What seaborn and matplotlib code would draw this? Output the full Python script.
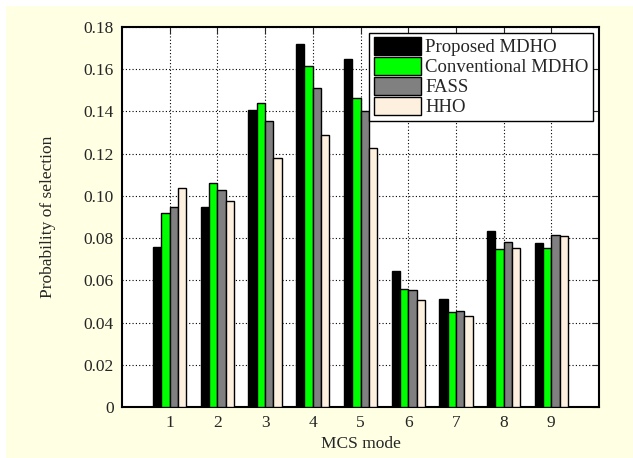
import matplotlib
matplotlib.use("Agg")
import matplotlib.pyplot as plt
import seaborn as sns
import pandas as pd
from matplotlib.patches import Rectangle

modes = [1, 2, 3, 4, 5, 6, 7, 8, 9]
series_names = ["Proposed MDHO", "Conventional MDHO", "FASS", "HHO"]
proposed = [0.0756, 0.0946, 0.1405, 0.1718, 0.1650, 0.0646, 0.0513, 0.0834, 0.0775]
conventional = [0.0917, 0.1063, 0.1441, 0.1615, 0.1465, 0.0560, 0.0448, 0.0748, 0.0753]
fass = [0.0949, 0.1028, 0.1353, 0.1511, 0.1400, 0.0556, 0.0455, 0.0780, 0.0816]
hho = [0.1039, 0.0974, 0.1180, 0.1290, 0.1225, 0.0508, 0.0430, 0.0755, 0.0811]
yticks = [0, 0.02, 0.04, 0.06, 0.08, 0.10, 0.12, 0.14, 0.16, 0.18]
ytick_labels = ["0", "0.02", "0.04", "0.06", "0.08", "0.10", "0.12", "0.14", "0.16", "0.18"]

rows = []
for name, vals in zip(series_names, [proposed, conventional, fass, hho]):
    for m, v in zip(modes, vals):
        rows.append({"mode": m, "series": name, "value": v})
df = pd.DataFrame(rows)

sns.set_style("white")
plt.rcParams["font.family"] = ["Liberation Serif", "DejaVu Serif"]
plt.rcParams["font.size"] = 12

fig = plt.figure(figsize=(6.33, 4.58), dpi=100)
fig.patch.set_facecolor("white")
fig.patches.append(Rectangle((6 / 633, 0), 1, 1 - 6 / 458, transform=fig.transFigure,
                             facecolor="#FFFFE3", edgecolor="none", zorder=-10))
ax = fig.add_axes([122 / 633, 51 / 458, 477 / 633, 380 / 458])
ax.set_facecolor("white")

palette = {"Proposed MDHO": "#000000", "Conventional MDHO": "#00FF00",
           "FASS": "#808080", "HHO": "#FDF0DE"}
sns.barplot(data=df, x="mode", y="value", hue="series", hue_order=series_names,
            palette=palette, native_scale=True, width=0.7, saturation=1,
            edgecolor="black", linewidth=1.0, ax=ax, zorder=3)

ax.set_xlim(0, 10)
ax.set_ylim(0, 0.18)
ax.set_xticks(modes)
ax.set_xticklabels([str(m) for m in modes])
ax.set_yticks(yticks)
ax.set_yticklabels(ytick_labels)
ax.grid(True, linestyle=(0, (1, 2)), color="black", linewidth=0.8, zorder=0)
ax.set_axisbelow(True)
ax.tick_params(direction="in", top=True, right=True, length=5, width=0.8,
               labelsize=12.5, pad=6)
for s in ax.spines.values():
    s.set_visible(True)
    s.set_color("black")
    s.set_linewidth(1.5)
ax.set_xlabel("MCS mode", fontsize=12.5, labelpad=3)
ax.set_ylabel("Probability of selection", fontsize=12.5, labelpad=20)

leg = ax.legend(loc="upper right", fontsize=13.5, frameon=True, fancybox=False,
                edgecolor="black", framealpha=1, borderpad=0.25, labelspacing=0.05,
                handlelength=2.5, handleheight=1.05, handletextpad=0.25,
                borderaxespad=0.3)
leg.get_frame().set_linewidth(1.0)
leg.set_zorder(10)

fig.savefig("out.png", dpi=100, facecolor=fig.get_facecolor())
